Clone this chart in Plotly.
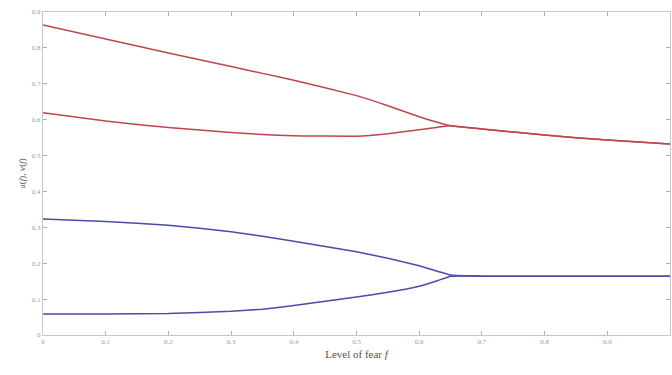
import plotly.graph_objects as go

fear = [0.0, 0.1, 0.2, 0.3, 0.35, 0.4, 0.5, 0.55, 0.6, 0.63, 0.65, 0.7, 0.8, 0.9, 1.0]

u_upper = [0.864, 0.825, 0.786, 0.748, 0.729, 0.710, 0.667, 0.639, 0.608, 0.592, 0.583, 0.574, 0.557, 0.543, 0.532]
u_lower = [0.619, 0.596, 0.578, 0.564, 0.559, 0.555, 0.554, 0.561, 0.572, 0.579, 0.583, 0.574, 0.557, 0.543, 0.532]

v_upper = [0.323, 0.316, 0.306, 0.288, 0.275, 0.261, 0.232, 0.214, 0.193, 0.177, 0.167, 0.164, 0.164, 0.164, 0.164]
v_lower = [0.0585, 0.0585, 0.060, 0.066, 0.072, 0.082, 0.106, 0.119, 0.136, 0.152, 0.164, 0.164, 0.164, 0.164, 0.164]

x_ticks = [0, 0.1, 0.2, 0.3, 0.4, 0.5, 0.6, 0.7, 0.8, 0.9, 1.0]
y_ticks = [0, 0.1, 0.2, 0.3, 0.4, 0.5, 0.6, 0.7, 0.8, 0.9]

red = "rgb(190,70,75)"
blue = "rgb(75,75,170)"

fig = go.Figure()
for ys, c in [(u_upper, red), (u_lower, red), (v_upper, blue), (v_lower, blue)]:
    fig.add_trace(go.Scatter(x=fear, y=ys, mode="lines", line=dict(color=c, width=1.5, shape="spline", smoothing=0.3), showlegend=False))

axis_common = dict(showline=True, linecolor="#c8c8c8", linewidth=1, mirror="ticks", ticks="inside",
                   ticklen=4, tickcolor="#b0b0b0", showgrid=False, zeroline=False,
                   tickfont=dict(size=7, color="#9a9a9a", family="Liberation Serif"))

fig.update_xaxes(range=[0, 1], tickvals=x_ticks, ticktext=[str(t) for t in x_ticks],
                 title=dict(text="Level of fear <i>f</i>", font=dict(size=11, color="#555", family="Liberation Serif"), standoff=4),
                 **axis_common)
fig.update_yaxes(range=[0, 0.9], tickvals=y_ticks, ticktext=[str(t) for t in y_ticks],
                 title=dict(text="u(<i>f</i>), v(<i>f</i>)", font=dict(size=9, color="#555", family="Liberation Serif"), standoff=4),
                 **axis_common)

fig.update_layout(width=672, height=375, margin=dict(l=43, r=2, t=12, b=40),
                  plot_bgcolor="white", paper_bgcolor="white")

fig.write_html("out.html")
